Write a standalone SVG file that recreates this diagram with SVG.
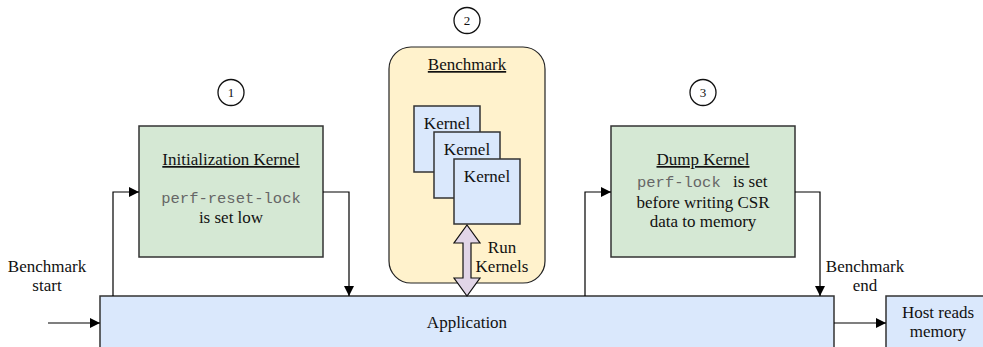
<svg xmlns="http://www.w3.org/2000/svg" width="983" height="347" viewBox="0 0 983 347">
  <defs>
    <marker id="arrow" viewBox="0 0 10 10" refX="10" refY="5" markerWidth="10" markerHeight="10" markerUnits="userSpaceOnUse" orient="auto">
      <path d="M0,0 L10,5 L0,10 z" fill="#000"/>
    </marker>
    <style>
      .t { font-family: "Liberation Serif", "Times New Roman", serif; font-size: 17px; fill: #111; text-anchor: middle; }
      .u { text-decoration: underline; }
      .m { font-family: "Liberation Mono", "Courier New", monospace; font-size: 15.5px; fill: #666; }
      .green { fill: #d5e8d4; stroke: #333; stroke-width: 1.5; }
      .blue { fill: #dae8fc; stroke: #333; stroke-width: 1.5; }
      .yellow { fill: #fff2cc; stroke: #222; stroke-width: 1.2; }
      .step { fill: #fff; stroke: #111; stroke-width: 1.3; }
      .num { font-family: "Liberation Serif", "Times New Roman", serif; font-size: 13px; fill: #111; text-anchor: middle; }
      .conn { fill: none; stroke: #000; stroke-width: 1.2; }
    </style>
  </defs>

  <rect width="983" height="347" fill="#fff"/>

  <!-- step markers -->
  <g id="step1">
    <circle class="step" cx="231" cy="92.5" r="13"/>
    <text class="num" x="231" y="97">1</text>
  </g>
  <g id="step2">
    <circle class="step" cx="467" cy="20.5" r="13"/>
    <text class="num" x="467" y="25">2</text>
  </g>
  <g id="step3">
    <circle class="step" cx="703" cy="92.5" r="13"/>
    <text class="num" x="703" y="97">3</text>
  </g>

  <!-- initialization kernel -->
  <g id="init-kernel">
    <rect class="green" x="139" y="126" width="184" height="131"/>
    <text class="t u" x="231" y="165">Initialization Kernel</text>
    <text class="m" x="231" y="203" text-anchor="middle">perf-reset-lock</text>
    <text class="t" x="231" y="223">is set low</text>
  </g>

  <!-- benchmark container -->
  <g id="benchmark">
    <rect class="yellow" x="389" y="47" width="156" height="236" rx="22" ry="22"/>
    <text class="t u" x="467" y="70">Benchmark</text>
  </g>

  <g id="kernel-1">
    <rect class="blue" x="414" y="106" width="66" height="66"/>
    <text class="t" x="447" y="129">Kernel</text>
  </g>
  <g id="kernel-2">
    <rect class="blue" x="434" y="132" width="66" height="66"/>
    <text class="t" x="467" y="155">Kernel</text>
  </g>
  <g id="kernel-3">
    <rect class="blue" x="454" y="159" width="66" height="65"/>
    <text class="t" x="487" y="182">Kernel</text>
  </g>

  <!-- dump kernel -->
  <g id="dump-kernel">
    <rect class="green" x="611" y="126" width="184" height="131"/>
    <text class="t u" x="703" y="165">Dump Kernel</text>
    <text x="637" y="187"><tspan class="m">perf-lock</tspan><tspan class="t" x="733" style="text-anchor:start">is set</tspan></text>
    <text class="t" x="703" y="208">before writing CSR</text>
    <text class="t" x="703" y="227">data to memory</text>
  </g>

  <!-- application -->
  <g id="application">
    <rect class="blue" x="100" y="296" width="734" height="60"/>
    <text class="t" x="467" y="328">Application</text>
  </g>

  <!-- host -->
  <g id="host">
    <rect class="blue" x="886" y="296" width="110" height="60"/>
    <text class="t" x="938" y="318">Host reads</text>
    <text class="t" x="938" y="337">memory</text>
  </g>

  <!-- connectors -->
  <g id="connectors">
    <path class="conn" d="M48,323 H100" marker-end="url(#arrow)"/>
    <path class="conn" d="M113,296 V192 H139" marker-end="url(#arrow)"/>
    <path class="conn" d="M323,192 H349 V296" marker-end="url(#arrow)"/>
    <path class="conn" d="M585,296 V192 H611" marker-end="url(#arrow)"/>
    <path class="conn" d="M795,192 H820 V296" marker-end="url(#arrow)"/>
    <path class="conn" d="M834,323 H886" marker-end="url(#arrow)"/>
    <!-- run kernels double arrow -->
    <path d="M467,225 L480,243 L471,243 L471,278 L480,278 L467,296 L454,278 L463,278 L463,243 L454,243 Z" fill="#e1d5e7" stroke="#111" stroke-width="1.2" stroke-linejoin="miter"/>
  </g>

  <!-- free labels -->
  <g id="labels">
    <text class="t" x="47" y="272">Benchmark</text>
    <text class="t" x="47" y="291">start</text>
    <text class="t" x="502" y="253">Run</text>
    <text class="t" x="502" y="272">Kernels</text>
    <text class="t" x="865" y="272">Benchmark</text>
    <text class="t" x="865" y="291">end</text>
  </g>
</svg>
